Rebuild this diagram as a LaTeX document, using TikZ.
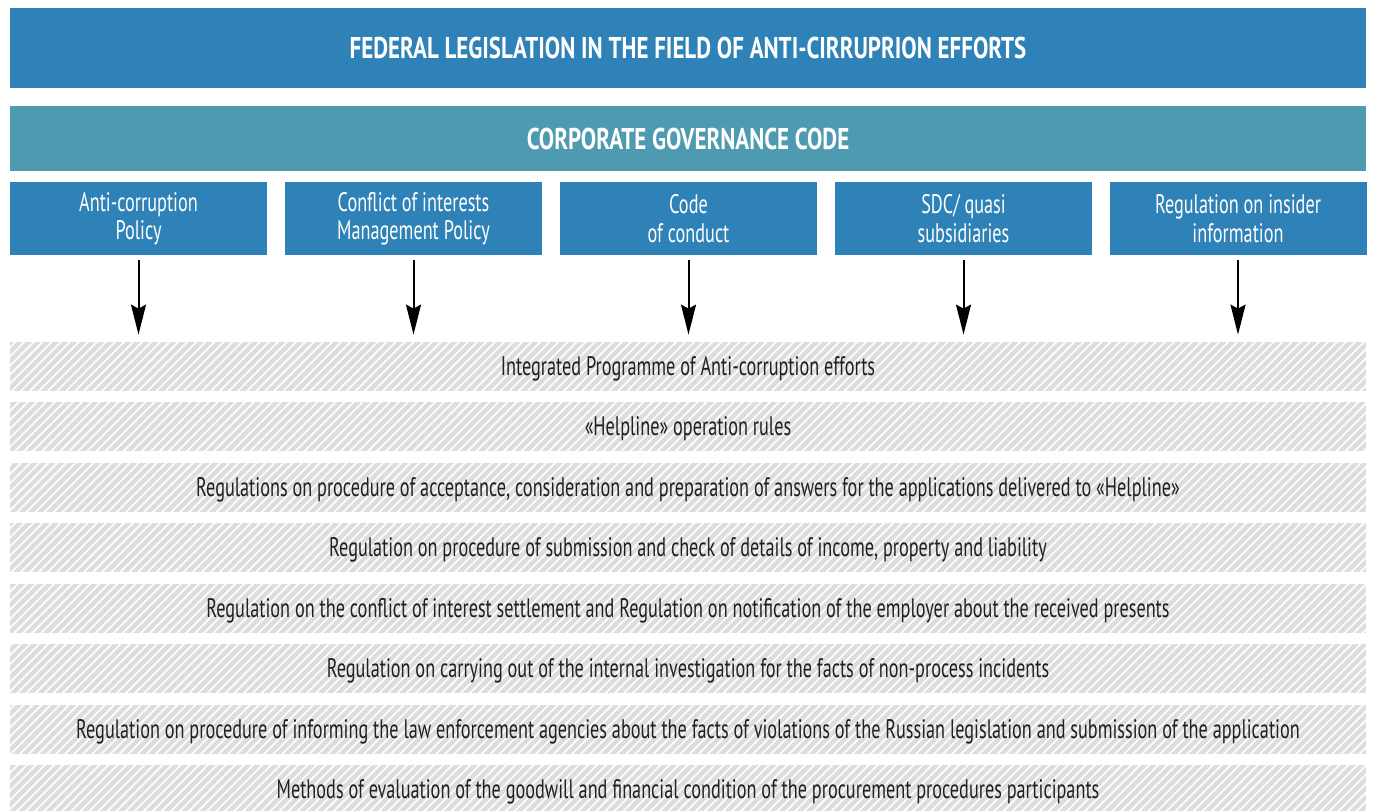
\documentclass[tikz,border=0pt]{standalone}
\usepackage{fontspec}
\setmainfont{PT Sans}[FakeStretch=0.68]
\newfontfamily\titlefont{PT Sans}[FakeStretch=0.765]
\usetikzlibrary{arrows.meta,patterns.meta}
\definecolor{topblue}{HTML}{2E82B7}
\definecolor{teal}{HTML}{4E9AB0}
\definecolor{bandgray}{HTML}{DCDDDF}
\definecolor{ink}{HTML}{231F20}
\begin{document}
\begin{tikzpicture}[x=0.5pt,y=-0.5pt,
  headbox/.style={fill=topblue,draw=none,text=white,font=\titlefont\fontsize{15}{18}\selectfont\bfseries,minimum width=678pt,minimum height=40pt,inner sep=0pt},
  codebox/.style={fill=teal,draw=none,text=white,font=\titlefont\fontsize{15}{18}\selectfont\bfseries,minimum width=678pt,minimum height=32.5pt,inner sep=0pt},
  docbox/.style={fill=topblue,draw=none,text=white,font=\fontsize{13.4}{14.2}\selectfont,minimum width=128.5pt,minimum height=36.5pt,inner sep=0pt,align=center},
  band/.style={fill=bandgray,draw=none,text=ink,font=\fontsize{13.4}{14}\selectfont,minimum width=678pt,minimum height=24.5pt,inner sep=0pt,text depth=0pt,text height=8.5pt,
    postaction={pattern={Lines[angle=45,distance=3.2pt,line width=0.85pt]},pattern color=white}},
  arr/.style={-{Stealth[length=15pt,width=7.5pt,inset=2pt]},line width=1pt,black}
]
\useasboundingbox (0,0) rectangle (1375,810);
\node[headbox] (fed) at (688,48) {FEDERAL LEGISLATION IN THE FIELD OF ANTI-CIRRUPRION EFFORTS};
\node[codebox] (cgc) at (688,138.5) {CORPORATE GOVERNANCE CODE};
\node[docbox] (d1) at (138.5,218.5) {Anti-corruption\\Policy};
\node[docbox] (d2) at (413.5,218.5) {Conflict of interests\\Management Policy};
\node[docbox] (d3) at (688.5,218.5) {Code\\of conduct};
\node[docbox] (d4) at (963.5,218.5) {SDC/ quasi\\subsidiaries};
\node[docbox] (d5) at (1238,218.5) {Regulation on insider\\information};
\node[band] (b1) at (688,366.5) {Integrated Programme of Anti-corruption efforts};
\node[band] (b2) at (688,426.5) {«Helpline» operation rules};
\node[band] (b3) at (688,487.5) {Regulations on procedure of acceptance, consideration and preparation of answers for the applications delivered to «Helpline»};
\node[band] (b4) at (688,547.5) {Regulation on procedure of submission and check of details of income, property and liability};
\node[band] (b5) at (688,608.5) {Regulation on the conflict of interest settlement and Regulation on notification of the employer about the received presents};
\node[band] (b6) at (688,668.5) {Regulation on carrying out of the internal investigation for the facts of non-process incidents};
\node[band] (b7) at (688,729.5) {Regulation on procedure of informing the law enforcement agencies about the facts of violations of the Russian legislation and submission of the application};
\node[band] (b8) at (688,789.5) {Methods of evaluation of the goodwill and financial condition of the procurement procedures participants};
\foreach \i in {1,...,5}{
  \draw[arr] ([yshift=-2.5pt]d\i.south) -- ([yshift=3.5pt]d\i.south |- b1.north);
}
\end{tikzpicture}
\end{document}
